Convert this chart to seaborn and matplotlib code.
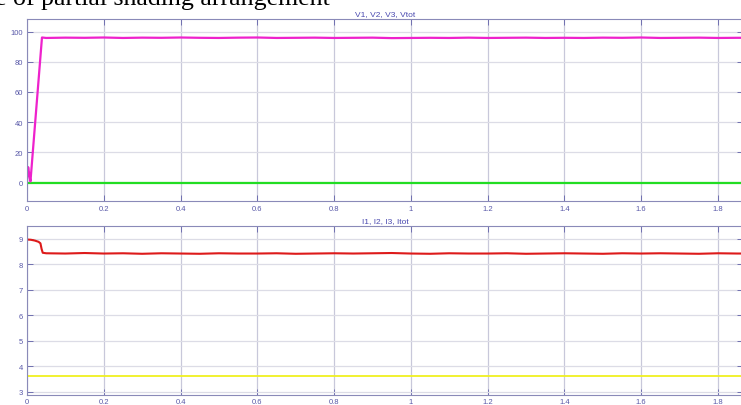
import matplotlib
matplotlib.use("Agg")
import matplotlib.pyplot as plt
import seaborn as sns
import pandas as pd
from matplotlib.ticker import FormatStrFormatter

# ---------------- data ----------------
t_v = [0.0, 0.003, 0.006, 0.009, 0.039, 0.05, 0.1, 0.15, 0.2, 0.25, 0.3, 0.35, 0.4,
       0.45, 0.5, 0.55, 0.6, 0.65, 0.7, 0.75, 0.8, 0.85, 0.9, 0.95, 1.0, 1.05,
       1.1, 1.15, 1.2, 1.25, 1.3, 1.35, 1.4, 1.45, 1.5, 1.55, 1.6, 1.65, 1.7,
       1.75, 1.8, 1.85, 1.9]
v_tot = [0.5, 10.0, 5.0, 0.5, 96.2, 95.9, 96.1, 96.0, 96.2, 95.9, 96.1, 96.0, 96.2,
         96.0, 95.9, 96.1, 96.2, 95.9, 96.0, 96.1, 95.9, 96.0, 96.1, 95.8, 95.9,
         96.0, 95.9, 96.1, 95.9, 96.0, 96.1, 95.9, 96.0, 95.9, 96.1, 96.0, 96.2,
         95.9, 96.0, 96.1, 95.9, 96.0, 96.0]
t_v0 = [0.0, 1.9]
v_zero = [-0.3, -0.3]

t_i = [0.0, 0.01, 0.02, 0.03, 0.035, 0.038, 0.041, 0.05, 0.1, 0.15, 0.2, 0.25, 0.3,
       0.35, 0.4, 0.45, 0.5, 0.55, 0.6, 0.65, 0.7, 0.75, 0.8, 0.85, 0.9, 0.95,
       1.0, 1.05, 1.1, 1.15, 1.2, 1.25, 1.3, 1.35, 1.4, 1.45, 1.5, 1.55, 1.6,
       1.65, 1.7, 1.75, 1.8, 1.85, 1.9]
i_tot = [8.97, 8.96, 8.93, 8.88, 8.82, 8.6, 8.45, 8.43, 8.42, 8.44, 8.42, 8.43, 8.41,
         8.43, 8.42, 8.41, 8.43, 8.42, 8.42, 8.43, 8.41, 8.42, 8.43, 8.42, 8.43, 8.44,
         8.42, 8.41, 8.43, 8.42, 8.42, 8.43, 8.41, 8.42, 8.43, 8.42, 8.41, 8.43, 8.42,
         8.43, 8.42, 8.41, 8.43, 8.42, 8.42]
t_i3 = [0.0, 1.9]
i_yellow = [3.6, 3.6]

x_ticks = [0, 0.2, 0.4, 0.6, 0.8, 1.0, 1.2, 1.4, 1.6, 1.8]
v_ticks = [0, 20, 40, 60, 80, 100]
i_ticks = [3, 4, 5, 6, 7, 8, 9]

# ---------------- style ----------------
sns.set_theme(style="white")
plt.rcParams["font.family"] = ["Liberation Sans", "DejaVu Sans"]

W, H = 741, 406
fig = plt.figure(figsize=(W / 100, H / 100), dpi=100)
fig.patch.set_facecolor("white")

tick_col = "#5858a8"
spine_col = "#8a8ab8"
grid_col = "#dcdce6"
vgrid_col = "#c8c8da"

def px_axes(left, top, right, bottom):
    return fig.add_axes([left / W, 1 - bottom / H, (right - left) / W, (bottom - top) / H])

ax1 = px_axes(27, 20, 743, 202)
ax2 = px_axes(27, 227, 743, 396)

df_v = pd.DataFrame({"t": t_v, "v": v_tot})
df_v0 = pd.DataFrame({"t": t_v0, "v": v_zero})
df_i = pd.DataFrame({"t": t_i, "i": i_tot})
df_i3 = pd.DataFrame({"t": t_i3, "i": i_yellow})

sns.lineplot(data=df_v0, x="t", y="v", ax=ax1, color="#22dd22", lw=1.6, estimator=None, sort=False)
sns.lineplot(data=df_v, x="t", y="v", ax=ax1, color="#ee22cc", lw=1.6, estimator=None, sort=False)
sns.lineplot(data=df_i3, x="t", y="i", ax=ax2, color="#f0f020", lw=1.3, estimator=None, sort=False)
sns.lineplot(data=df_i, x="t", y="i", ax=ax2, color="#dd1a1a", lw=1.5, estimator=None, sort=False)

for ax, yt, ylim, title in [(ax1, v_ticks, (-12.5, 108.5), "V1, V2, V3, Vtot"),
                            (ax2, i_ticks, (2.87, 9.5), "I1, I2, I3, Itot")]:
    ax.set_xlim(0, 1.865)
    ax.set_ylim(*ylim)
    ax.set_xticks(x_ticks)
    ax.set_yticks(yt)
    ax.xaxis.set_major_formatter(FormatStrFormatter("%g"))
    ax.set_xlabel("")
    ax.set_ylabel("")
    ax.grid(True, axis="y", color=grid_col, lw=0.9)
    ax.grid(True, axis="x", color=vgrid_col, lw=0.9)
    ax.set_axisbelow(True)
    for s in ax.spines.values():
        s.set_color(spine_col)
        s.set_linewidth(0.8)
    ax.tick_params(direction="in", length=4, width=0.7, color="#7070b0",
                   labelsize=5.5, labelcolor=tick_col, top=True, right=True,
                   bottom=True, left=True)
    ax.tick_params(axis="x", pad=3)
    ax.tick_params(axis="y", pad=3)
    ax.set_title(title, fontsize=6, color="#4a4ab0", pad=2.5)

ax2.tick_params(axis="x", pad=2)

fig.text(-5 / W, 1 - 4.5 / H, "e of partial shading arrangement", fontsize=18.6,
         family=["Liberation Serif", "DejaVu Serif"], color="black", va="baseline", ha="left")

fig.savefig("out.png", dpi=100, facecolor="white")
